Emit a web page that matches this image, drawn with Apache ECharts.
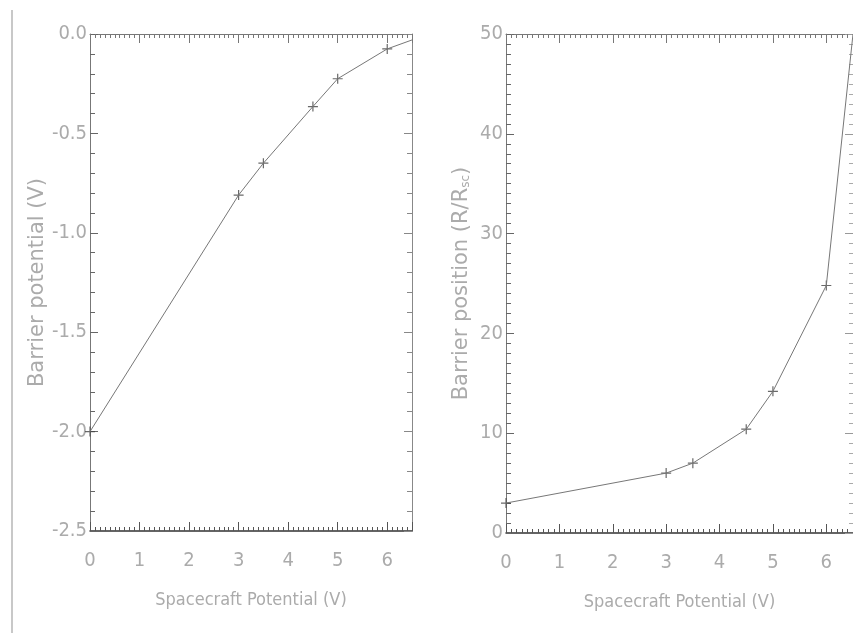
<!DOCTYPE html>
<html><head><meta charset="utf-8">
<script src="https://cdn.jsdelivr.net/npm/echarts@6/dist/echarts.min.js"></script>
<style>html,body{margin:0;padding:0;background:#fff}#c{width:853px;height:633px}</style>
</head><body><div id="c"></div>
<script>
var potentialX = [0, 3, 3.5, 4.5, 5, 6, 6.5];
var barrierPotential = [-2.0, -0.81, -0.65, -0.365, -0.225, -0.075, -0.03];
var barrierPosition = [3.0, 6.0, 7.0, 10.4, 14.2, 24.8, 50];
var markerX = [0, 3, 3.5, 4.5, 5, 6];
var xTicks = [0, 1, 2, 3, 4, 5, 6];
var leftYTicks = [-2.5, -2.0, -1.5, -1.0, -0.5, 0.0];
var rightYTicks = [0, 10, 20, 30, 40, 50];

function pairs(xs, ys) { return xs.map(function (x, i) { return [x, ys[i]]; }); }
function markerPairs(xs, ys) {
  return markerX.map(function (x) { var i = xs.indexOf(x); return [x, ys[i]]; });
}

var labelFont = { color: '#ababab', fontFamily: 'DejaVu Sans Condensed, DejaVu Sans, sans-serif', fontSize: 20 };
var plusPath = 'path://M0,5L10,5M5,0L5,10';

function xAxisBottom(gi) {
  return {
    type: 'value', gridIndex: gi, position: 'bottom', min: 0, max: 6.5, interval: 1,
    name: 'Spacecraft Potential (V)', nameLocation: 'middle', nameGap: 60,
    nameTextStyle: { color: '#ababab', fontFamily: 'DejaVu Sans Condensed, DejaVu Sans, sans-serif', fontSize: 18 },
    axisLine: { show: true, onZero: false, lineStyle: { color: '#333', width: 1.5 } },
    axisTick: { show: true, inside: true, length: 9, lineStyle: { color: '#555' } },
    minorTick: { show: true, splitNumber: 10, length: 4, lineStyle: { color: '#555' } },
    axisLabel: Object.assign({ margin: 20, showMaxLabel: false, formatter: function (v) { return xTicks.indexOf(v) >= 0 ? String(v) : ''; } }, labelFont),
    splitLine: { show: false }
  };
}
function xAxisTop(gi) {
  return {
    type: 'value', gridIndex: gi, position: 'top', min: 0, max: 6.5, interval: 1,
    axisLine: { show: true, onZero: false, lineStyle: { color: '#777', width: 1 } },
    axisTick: { show: true, inside: true, length: 9, lineStyle: { color: '#777' } },
    minorTick: { show: true, splitNumber: 10, length: 4, lineStyle: { color: '#777' } },
    axisLabel: { show: false }, splitLine: { show: false }
  };
}

var option = {
  animation: false,
  backgroundColor: '#fff',
  graphic: [{ type: 'line', shape: { x1: 12, y1: 10, x2: 12, y2: 633 }, style: { stroke: '#c8c8c8', lineWidth: 2 } }],
  grid: [
    { left: 90, top: 34, width: 322, height: 497 },
    { left: 506, top: 34, width: 349, height: 499 }
  ],
  xAxis: [xAxisBottom(0), xAxisTop(0), xAxisBottom(1), xAxisTop(1)],
  yAxis: [
    {
      type: 'value', gridIndex: 0, position: 'left', min: -2.5, max: 0, interval: 0.5,
      name: 'Barrier potential (V)', nameLocation: 'middle', nameGap: 40,
      nameTextStyle: { color: '#ababab', fontFamily: 'DejaVu Sans, sans-serif', fontSize: 21 },
      axisLine: { show: true, onZero: false, lineStyle: { color: '#777' } },
      axisTick: { show: true, inside: true, length: 8, lineStyle: { color: '#666' } },
      minorTick: { show: true, splitNumber: 5, length: 5, lineStyle: { color: '#666' } },
      axisLabel: Object.assign({ margin: 3, formatter: function (v) { return v.toFixed(1); } }, labelFont),
      splitLine: { show: false }
    },
    {
      type: 'value', gridIndex: 0, position: 'right', min: -2.5, max: 0, interval: 0.5,
      axisLine: { show: true, onZero: false, lineStyle: { color: '#888' } },
      axisTick: { show: true, inside: true, length: 8, lineStyle: { color: '#888' } },
      minorTick: { show: true, splitNumber: 5, length: 5, lineStyle: { color: '#888' } },
      axisLabel: { show: false }, splitLine: { show: false }
    },
    {
      type: 'value', gridIndex: 1, position: 'left', min: 0, max: 50, interval: 10,
      name: '{t|Barrier position (R/R}{s|sc}{t|)}', nameLocation: 'middle', nameGap: 34,
      nameTextStyle: { color: '#ababab', fontFamily: 'DejaVu Sans, sans-serif', fontSize: 21,
        rich: { t: { color: '#ababab', fontFamily: 'DejaVu Sans, sans-serif', fontSize: 21 },
                s: { color: '#ababab', fontFamily: 'DejaVu Sans, sans-serif', fontSize: 12, verticalAlign: 'bottom', padding: [8, 0, 0, 0] } } },
      axisLine: { show: true, onZero: false, lineStyle: { color: '#777' } },
      axisTick: { show: true, inside: true, length: 8, lineStyle: { color: '#666' } },
      minorTick: { show: true, splitNumber: 10, length: 5, lineStyle: { color: '#666' } },
      axisLabel: Object.assign({ margin: 3 }, labelFont),
      splitLine: { show: false }
    },
    {
      type: 'value', gridIndex: 1, position: 'right', min: 0, max: 50, interval: 10,
      axisLine: { show: true, onZero: false, lineStyle: { color: '#aaa', type: 'dotted' } },
      axisTick: { show: true, inside: true, length: 8, lineStyle: { color: '#999' } },
      minorTick: { show: true, splitNumber: 10, length: 4, lineStyle: { color: '#aaa' } },
      axisLabel: { show: false }, splitLine: { show: false }
    }
  ],
  series: [
    { type: 'line', xAxisIndex: 0, yAxisIndex: 0, data: pairs(potentialX, barrierPotential), showSymbol: false, symbol: 'none',
      lineStyle: { color: '#777', width: 1 }, clip: true },
    { type: 'scatter', xAxisIndex: 0, yAxisIndex: 0, data: markerPairs(potentialX, barrierPotential), symbol: plusPath, symbolSize: 10,
      itemStyle: { color: 'none', borderColor: '#444', borderWidth: 1.2 } },
    { type: 'line', xAxisIndex: 2, yAxisIndex: 2, data: pairs(potentialX, barrierPosition), showSymbol: false, symbol: 'none',
      lineStyle: { color: '#777', width: 1 }, clip: true },
    { type: 'scatter', xAxisIndex: 2, yAxisIndex: 2, data: markerPairs(potentialX, barrierPosition), symbol: plusPath, symbolSize: 10,
      itemStyle: { color: 'none', borderColor: '#444', borderWidth: 1.2 } }
  ]
};
var chart = echarts.init(document.getElementById('c'), null, { renderer: 'canvas' });
chart.setOption(option);
</script></body></html>
